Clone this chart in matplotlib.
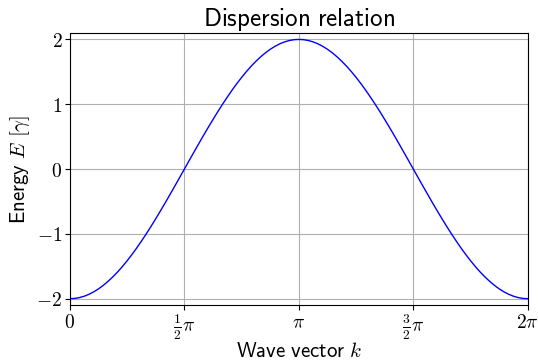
import matplotlib.pyplot as plt
import numpy as np

plt.rcParams['mathtext.fontset'] = 'cm'

# wave vector in units of pi/48, energy
k_steps = np.arange(97)
energy = [-2.000, -1.996, -1.983, -1.962, -1.932, -1.894, -1.848, -1.794,
          -1.732, -1.663, -1.587, -1.504, -1.414, -1.319, -1.218, -1.111,
          -1.000, -0.885, -0.765, -0.643, -0.518, -0.390, -0.261, -0.131,
          0.000, 0.131, 0.261, 0.390, 0.518, 0.643, 0.765, 0.885,
          1.000, 1.111, 1.218, 1.319, 1.414, 1.504, 1.587, 1.663,
          1.732, 1.794, 1.848, 1.894, 1.932, 1.962, 1.983, 1.996,
          2.000, 1.996, 1.983, 1.962, 1.932, 1.894, 1.848, 1.794,
          1.732, 1.663, 1.587, 1.504, 1.414, 1.319, 1.218, 1.111,
          1.000, 0.885, 0.765, 0.643, 0.518, 0.390, 0.261, 0.131,
          0.000, -0.131, -0.261, -0.390, -0.518, -0.643, -0.765, -0.885,
          -1.000, -1.111, -1.218, -1.319, -1.414, -1.504, -1.587, -1.663,
          -1.732, -1.794, -1.848, -1.894, -1.932, -1.962, -1.983, -1.996,
          -2.000]
xtick_pos = [0, 0.5, 1, 1.5, 2]
xtick_labels = [r'$0$', r'$\frac{1}{2}\pi$', r'$\pi$', r'$\frac{3}{2}\pi$', r'$2\pi$']
ytick_pos = [-2, -1, 0, 1, 2]
ytick_labels = [r'$-2$', r'$-1$', r'$0$', r'$1$', r'$2$']

k = k_steps * np.pi / 48

fig = plt.figure(figsize=(5.38, 3.62), dpi=100)
ax = fig.add_axes([0.130, 0.157, 0.851, 0.752])
ax.plot(k, energy, color='blue', linewidth=1.0)
ax.set_xlim(0, 2 * np.pi)
ax.set_ylim(-2.1, 2.1)
ax.set_xticks([p * np.pi for p in xtick_pos])
ax.set_xticklabels(xtick_labels, fontsize=14)
ax.set_yticks(ytick_pos)
ax.set_yticklabels(ytick_labels, fontsize=14)
ax.tick_params(length=3.5, width=0.8, pad=2)
ax.grid(True, color='#b0b0b0', linewidth=0.8)
ax.set_title(r'$\mathsf{Dispersion\ relation}$', fontsize=18, pad=2)
ax.set_xlabel(r'$\mathsf{Wave\ vector}\ k$', fontsize=15, labelpad=-1)
ax.set_ylabel(r'$\mathsf{Energy}\ E\ [\gamma]$', fontsize=15, labelpad=3)

plt.savefig('out.png', dpi=100)
